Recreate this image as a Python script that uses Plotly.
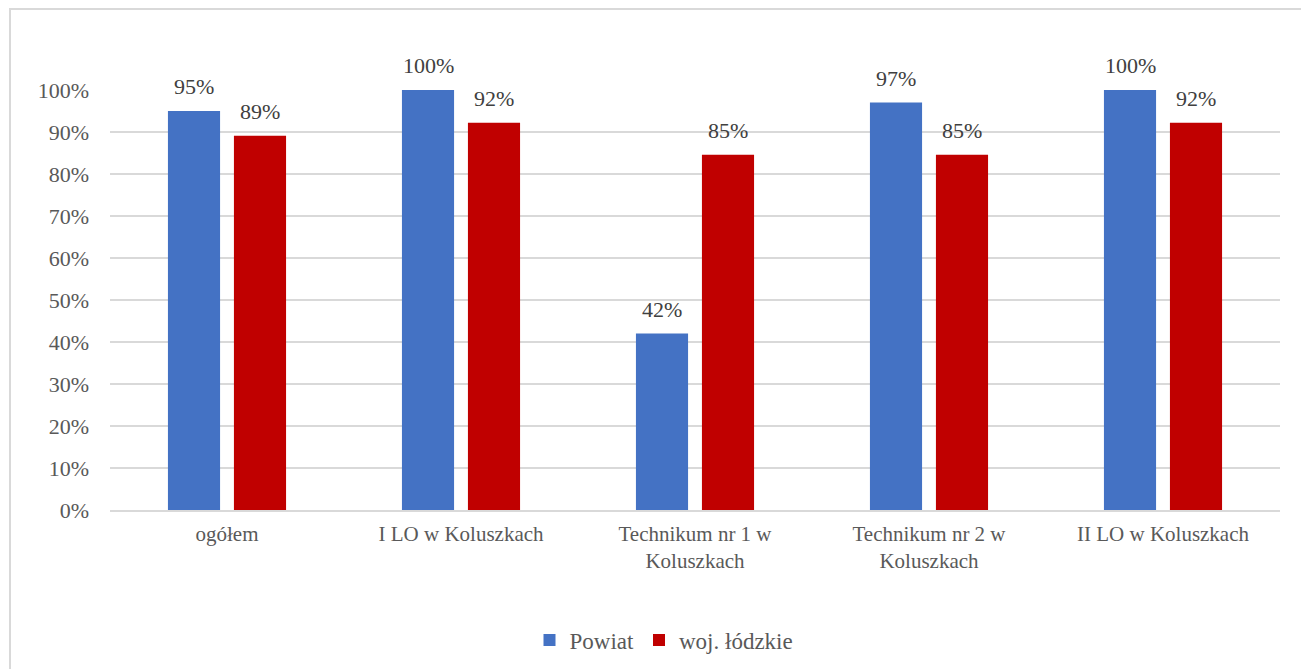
import plotly.graph_objects as go

categories = ["ogółem", "I LO w Koluszkach", "Technikum nr 1 w<br>Koluszkach",
              "Technikum nr 2 w<br>Koluszkach", "II LO w Koluszkach"]
powiat = [0.95, 1.00, 0.42, 0.97, 1.00]
wojewodztwo = [0.891, 0.922, 0.846, 0.846, 0.922]
tick_vals = [i / 10 for i in range(11)]
tick_text = [f"{i*10}%" for i in range(11)]

W, H = 1309, 669
OFF = 8  # page body margin
L, R, T, B = 102, 37, 82, 167
pw = W - L - R
ph = H - T - B

font = "Liberation Serif"

fig = go.Figure()
fig.add_bar(x=categories, y=powiat, name="Powiat", marker=dict(color="#4472C4", line=dict(width=0)))
fig.add_bar(x=categories, y=wojewodztwo, name="woj. łódzkie", marker=dict(color="#C00000", line=dict(width=0)))

annotations = []
for series, shift in ((powiat, -33), (wojewodztwo, 33)):
    for c, v in zip(categories, series):
        annotations.append(dict(x=c, y=v, xref="x", yref="y", text=f"{round(v*100)}%",
                                showarrow=False, xshift=shift, yshift=10, yanchor="bottom",
                                font=dict(family=font, size=22, color="#404040")))

def px_x(x):  # page pixel -> paper
    return (x - OFF - L) / pw

def px_y(y):
    return (H - B - (y - OFF)) / ph

fig.update_layout(
    width=W, height=H,
    margin=dict(l=L, r=R, t=T, b=B),
    paper_bgcolor="white", plot_bgcolor="white",
    barmode="group", bargap=0.436, bargroupgap=0.21,
    font=dict(family=font, color="#595959"),
    showlegend=True,
    legend=dict(orientation="h", x=px_x(664), xanchor="center", y=px_y(640), yanchor="middle",
                font=dict(family=font, size=23, color="#595959"), itemwidth=30,
                traceorder="normal"),
    xaxis=dict(showline=True, linecolor="#d9d9d9", linewidth=1.5, ticks="",
               tickfont=dict(family=font, size=21, color="#595959"), ticklabelstandoff=4),
    yaxis=dict(range=[0, 1], tickvals=tick_vals, ticktext=tick_text,
               showgrid=True, gridcolor="#d9d9d9", gridwidth=1.5, zeroline=False,
               tickfont=dict(family=font, size=22, color="#595959"), ticklabelstandoff=20),
    shapes=[dict(type="rect", xref="paper", yref="paper",
                 x0=px_x(10), x1=px_x(1340), y0=px_y(700), y1=px_y(9),
                 line=dict(color="#d9d9d9", width=2), fillcolor="rgba(0,0,0,0)", layer="below")],
    annotations=annotations,
)

fig.write_html("out.html")
